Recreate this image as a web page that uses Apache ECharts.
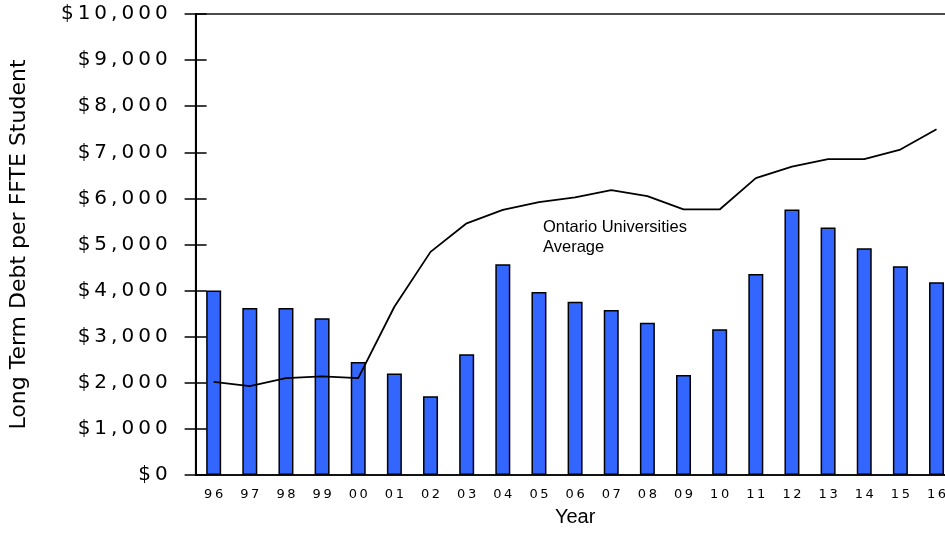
<!DOCTYPE html>
<html>
<head>
<meta charset="utf-8">
<script src="https://cdn.jsdelivr.net/npm/echarts@6/dist/echarts.min.js"></script>
<style>
html, body { margin: 0; padding: 0; background: #fff; }
#chart { width: 945px; height: 535px; }
</style>
</head>
<body>
<div id="chart"></div>
<script>
// years (two digit) on the x axis
var years = ["96", "97", "98", "99", "00", "01", "02", "03", "04", "05", "06",
    "07", "08", "09", "10", "11", "12", "13", "14", "15", "16"];
// long term debt per FFTE student, this institution
var debt = [4000, 3620, 3620, 3400, 2450, 2200, 1710, 2620, 4570, 3970, 3760,
    3580, 3300, 2170, 3160, 4360, 5760, 5370, 4920, 4530, 4180];
// Ontario universities average
var ontarioAvg = [2020, 1930, 2100, 2140, 2100, 3650, 4840, 5460, 5750, 5920, 6020,
    6180, 6050, 5760, 5760, 6440, 6690, 6850, 6850, 7060, 7500];
var yTicks = [0, 1000, 2000, 3000, 4000, 5000, 6000, 7000, 8000, 9000, 10000];

// the original uses a very wide face, so spread the characters a bit
function spread(s, sp) {
    return s.split("").join(sp);
}
function money(v) {
    return "$" + v.toString().replace(/\B(?=(\d{3})+(?!\d))/g, ",");
}

var myChart = echarts.init(document.getElementById("chart"));
myChart.setOption({
    animation: false,
    grid: {
        left: 195.6,
        top: 14,
        width: 759,
        height: 461,
        outerBoundsMode: "none",
        containLabel: false,
        show: true,
        borderColor: "#111",
        borderWidth: 1.4,
        backgroundColor: "transparent",
    },
    xAxis: [{
        type: "category",
        data: years,
        name: "Year",
        nameLocation: "middle",
        nameGap: 32,
        nameTextStyle: {
            fontFamily: "Liberation Sans",
            fontSize: 20,
            color: "#000",
        },
        axisLine: { lineStyle: { color: "#000", width: 1.5 } },
        axisTick: { length: 4, lineStyle: { color: "#000", width: 1.5 } },
        axisLabel: {
            margin: 13,
            fontFamily: "DejaVu Sans",
            fontSize: 13,
            color: "#000",
            formatter: function (v) { return spread(v, "\u2009"); },
        },
    }, {
        // second axis only for the inside half of the crossing ticks
        type: "category",
        data: years,
        position: "bottom",
        axisLine: { show: false },
        axisTick: { inside: true, length: 3, lineStyle: { color: "#000", width: 1.5 } },
        axisLabel: { show: false },
    }],
    yAxis: [{
        type: "value",
        min: 0,
        max: 10000,
        interval: 1000,
        name: "Long Term Debt per FFTE Student",
        nameLocation: "middle",
        nameRotate: 90,
        nameGap: 165,
        nameTextStyle: {
            fontFamily: "DejaVu Sans",
            fontSize: 22,
            color: "#000",
        },
        axisLine: { show: true, lineStyle: { color: "#000", width: 2 } },
        axisTick: { show: true, length: 11, lineStyle: { color: "#000", width: 1.5 } },
        splitLine: { show: false },
        axisLabel: {
            margin: 28,
            fontFamily: "DejaVu Sans",
            fontSize: 20,
            color: "#000",
            formatter: function (v) {
                if (yTicks.indexOf(v) < 0) return "";
                return spread(money(v), "\u2009");
            },
        },
    }, {
        type: "value",
        min: 0,
        max: 10000,
        interval: 1000,
        position: "left",
        axisLine: { show: false },
        axisTick: { show: true, inside: true, length: 11, lineStyle: { color: "#000", width: 1.5 } },
        splitLine: { show: false },
        axisLabel: { show: false },
    }],
    series: [{
        name: "Debt",
        type: "bar",
        data: debt,
        barWidth: 15,
        itemStyle: {
            color: "#3366FF",
            borderColor: "#000",
            borderWidth: 1.5,
        },
        z: 2,
    }, {
        name: "Ontario Universities Average",
        type: "line",
        data: ontarioAvg,
        symbol: "none",
        lineStyle: { color: "#000", width: 1.8 },
        z: 3,
    }],
    graphic: [{
        type: "text",
        left: 543,
        top: 217,
        style: {
            text: "Ontario Universities\nAverage",
            fontFamily: "Liberation Sans",
            fontSize: 16.5,
            lineHeight: 20,
            fill: "#000",
        },
    }],
});
window.addEventListener("resize", function () {
    myChart.resize();
});
</script>
</body>
</html>
